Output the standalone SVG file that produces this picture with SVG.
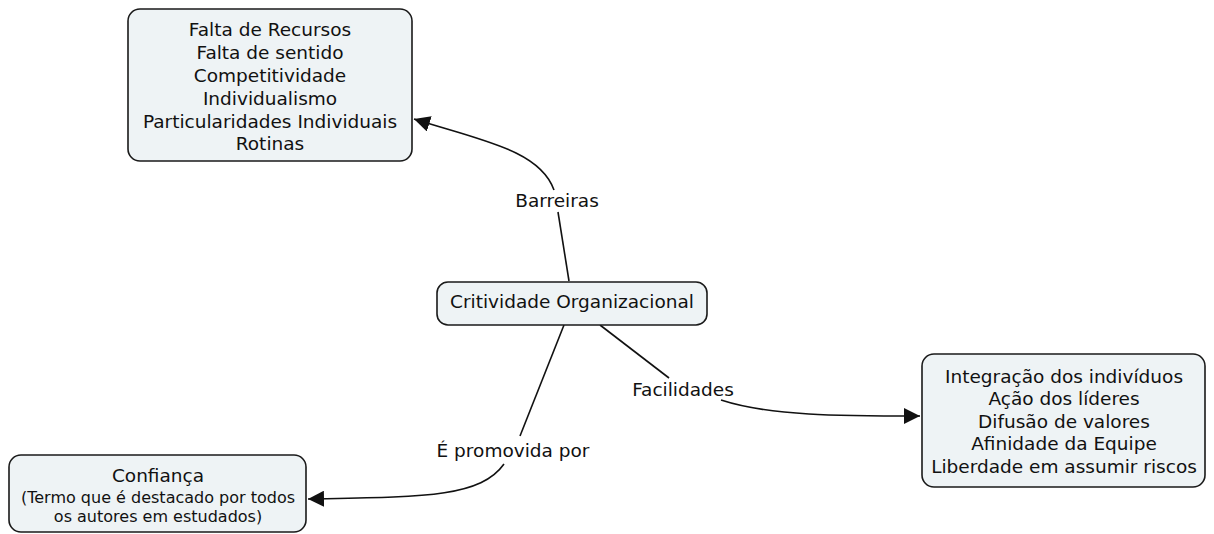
<svg xmlns="http://www.w3.org/2000/svg" width="1214" height="534" viewBox="0 0 1214 534">
<defs>
<style>
.box{fill:#eef3f5;stroke:#1a1a1a;stroke-width:1.6}
.t{font-family:"DejaVu Sans",Verdana,sans-serif;font-size:18.5px;fill:#111;text-anchor:middle}
.s{font-size:16px}
.c{fill:none;stroke:#111;stroke-width:1.6}
</style>
<marker id="ar" viewBox="0 0 10 10" refX="10" refY="5" markerWidth="16" markerHeight="16" markerUnits="userSpaceOnUse" orient="auto">
<path d="M0,0 L10,5 L0,10 z" fill="#111"/>
</marker>
</defs>
<rect width="1214" height="534" fill="#fff"/>
<g id="connectors">
<path class="c" d="M569,281 L558,212"/>
<path class="c" d="M554,190 C540,150 480,140 414,119" marker-end="url(#ar)"/>
<path class="c" d="M564,325 L520,436"/>
<path class="c" d="M504,464 C480,498 420,497 308,499" marker-end="url(#ar)"/>
<path class="c" d="M600,325 L669,378"/>
<path class="c" d="M721,400 C770,416 840,416 920,416" marker-end="url(#ar)"/>
</g>
<g id="lbl-barreiras"><text class="t" x="557" y="207">Barreiras</text></g>
<g id="lbl-promovida"><text class="t" x="513" y="457">É promovida por</text></g>
<g id="lbl-facilidades"><text class="t" x="683" y="396">Facilidades</text></g>
<g id="n-barreiras">
<rect class="box" x="128" y="9" width="284" height="152" rx="12"/>
<text class="t" x="270" y="36">Falta de Recursos</text>
<text class="t" x="270" y="59">Falta de sentido</text>
<text class="t" x="270" y="82">Competitividade</text>
<text class="t" x="270" y="105">Individualismo</text>
<text class="t" x="270" y="128">Particularidades Individuais</text>
<text class="t" x="270" y="150">Rotinas</text>
</g>
<g id="n-central">
<rect class="box" x="437" y="282" width="270" height="43" rx="11"/>
<text class="t" x="572" y="308">Critividade Organizacional</text>
</g>
<g id="n-facilidades">
<rect class="box" x="922" y="354" width="283" height="133" rx="12"/>
<text class="t" x="1064" y="383">Integração dos indivíduos</text>
<text class="t" x="1064" y="405">Ação dos líderes</text>
<text class="t" x="1064" y="428">Difusão de valores</text>
<text class="t" x="1064" y="450">Afinidade da Equipe</text>
<text class="t" x="1064" y="473">Liberdade em assumir riscos</text>
</g>
<g id="n-confianca">
<rect class="box" x="9" y="455" width="297" height="77" rx="12"/>
<text class="t" x="158" y="482">Confiança</text>
<text class="t s" x="158" y="503">(Termo que é destacado por todos</text>
<text class="t s" x="158" y="522">os autores em estudados)</text>
</g>
</svg>
